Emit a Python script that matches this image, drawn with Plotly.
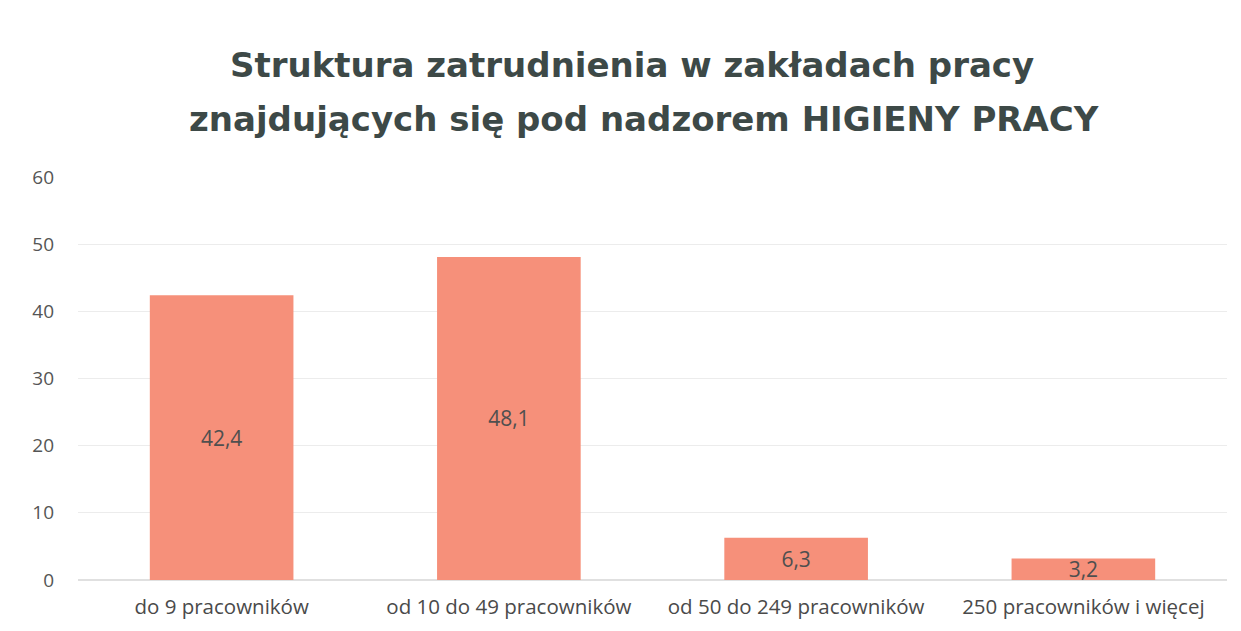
import plotly.graph_objects as go

categories = ["do 9 pracowników", "od 10 do 49 pracowników", "od 50 do 249 pracowników", "250 pracowników i więcej"]
values = [42.4, 48.1, 6.3, 3.2]
labels = ["42,4", "48,1", "6,3", "3,2"]
y_ticks = [0, 10, 20, 30, 40, 50, 60]
title_lines = ["Struktura zatrudnienia w zakładach pracy",
               "znajdujących się pod nadzorem HIGIENY PRACY"]

fig = go.Figure(go.Bar(
    x=categories, y=values, text=labels,
    textposition="inside", insidetextanchor="middle",
    constraintext="none",
    textfont=dict(family="Open Sans", size=21, color="#4f4f4f"),
    textangle=0,
    marker=dict(color="#f6907a", line=dict(width=0)),
    cliponaxis=False,
))

plot_top, plot_bottom_margin, fig_h = 169, 59, 631
plot_h = fig_h - plot_top - plot_bottom_margin
for line, px, py in zip(title_lines, [0.482, 0.493], [57, 111]):
    fig.add_annotation(
        text=f"<b>{line}</b>", xref="paper", yref="paper",
        x=px, xanchor="center", y=(fig_h - plot_bottom_margin - py) / plot_h, yanchor="middle",
        showarrow=False,
        font=dict(family="DejaVu Sans", size=34, color="#3d4947"),
    )

fig.update_layout(
    width=1241, height=631,
    paper_bgcolor="white", plot_bgcolor="white",
    margin=dict(l=70, r=22, t=plot_top, b=plot_bottom_margin, autoexpand=False),
    bargap=0.5,
    showlegend=False,
    xaxis=dict(
        tickfont=dict(family="Open Sans", size=20.5, color="#4a4a4a"),
        showline=False, ticks="", automargin=False,
        ticklabelstandoff=12,
    ),
    yaxis=dict(
        range=[0, 60], tickvals=y_ticks, automargin=False,
        tickfont=dict(family="Open Sans", size=19, color="#555555"),
        gridcolor="#ececec", zeroline=True, zerolinecolor="#e0e0e0",
        ticklabelstandoff=23,
    ),
)

fig.write_html("out.html")
